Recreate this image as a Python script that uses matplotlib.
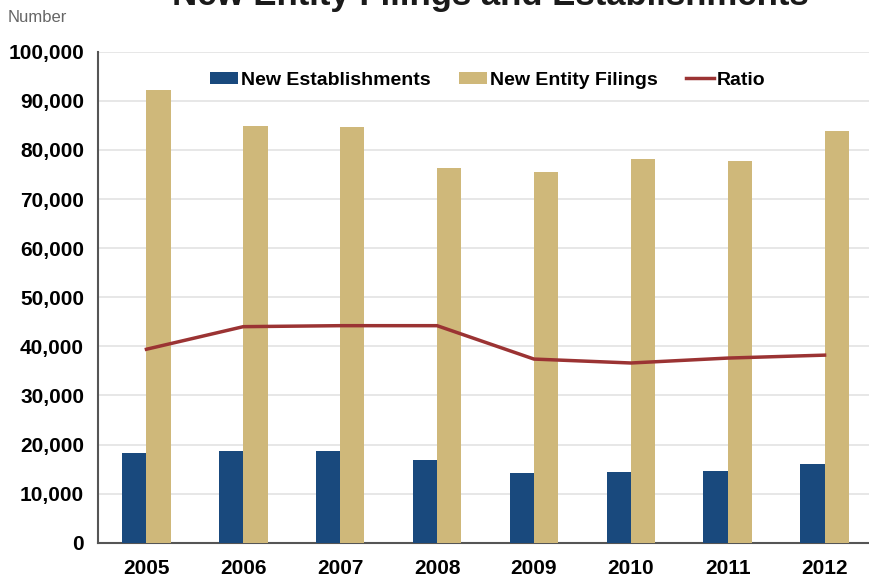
import matplotlib
matplotlib.use("Agg")
import matplotlib.pyplot as plt
import numpy as np
from matplotlib.ticker import FuncFormatter

# values
years = ["2005", "2006", "2007", "2008", "2009", "2010", "2011", "2012"]
new_establishments = [18200, 18700, 18700, 16900, 14200, 14300, 14700, 16100]
new_entity_filings = [92200, 84900, 84600, 76300, 75600, 78100, 77700, 83800]
ratio = [0.197, 0.220, 0.221, 0.221, 0.187, 0.183, 0.188, 0.191]

BLUE = "#19497d"
TAN = "#cfb87a"
RED = "#9b3333"

narrow = ["Liberation Sans Narrow", "Liberation Sans", "DejaVu Sans"]
plt.rcParams["font.family"] = ["Liberation Sans", "DejaVu Sans"]

fig = plt.figure(figsize=(8.69, 5.79), dpi=100)
ax = fig.add_axes([98 / 869, 1 - 542.7 / 579, (873 - 98) / 869, (542.7 - 51.7) / 579])

x = np.arange(len(years))
w = 0.25
ax.bar(x - w / 2, new_establishments, w, color=BLUE, label="New Establishments", zorder=3)
ax.bar(x + w / 2, new_entity_filings, w, color=TAN, label="New Entity Filings", zorder=3)

ax.set_xlim(-0.5, len(years) - 0.5)
ax.set_ylim(0, 100000)
ax.set_yticks(np.arange(0, 100001, 10000))
ax.yaxis.set_major_formatter(FuncFormatter(lambda v, p: f"{int(v):,}"))
ax.set_xticks(x)
ax.set_xticklabels(years)
ax.grid(axis="y", color="#e3e3e3", linewidth=1.2, zorder=0)
ax.set_axisbelow(True)
ax.tick_params(length=0, pad=10)
for lab in ax.get_xticklabels() + ax.get_yticklabels():
    lab.set_family(narrow)
    lab.set_fontweight("bold")
    lab.set_fontsize(15)
ax.tick_params(axis="x", pad=12)
for side in ("top", "right"):
    ax.spines[side].set_visible(False)
for side in ("left", "bottom"):
    ax.spines[side].set_color("#555555")
    ax.spines[side].set_linewidth(1.5)

# ratio on a secondary scale (right side is cut off in the reference)
ax2 = ax.twinx()
ax2.plot(x, ratio, color=RED, linewidth=2.5, label="Ratio", zorder=4)
ax2.set_ylim(0, 0.5)
ax2.set_yticks([])
for s in ax2.spines.values():
    s.set_visible(False)

h1, l1 = ax.get_legend_handles_labels()
h2, l2 = ax2.get_legend_handles_labels()
leg = ax2.legend(h1 + h2, l1 + l2, loc="upper center", bbox_to_anchor=(0.503, 0.995),
                 ncol=3, frameon=False, handlelength=1.45, handleheight=0.6,
                 handletextpad=0.15, columnspacing=1.45,
                 prop={"family": ["Liberation Sans", "DejaVu Sans"], "weight": "bold", "size": 14})

fig.text(490 / 869, 1 - 5 / 579, "New Entity Filings and Establishments", ha="center",
         va="baseline", fontsize=25, fontweight="bold", color="#1a1a1a")
fig.text(8 / 869, 1 - 18 / 579, "Number", ha="left", va="center", fontsize=12,
         color="#666666", family=narrow)

fig.savefig("out.png", dpi=100)
